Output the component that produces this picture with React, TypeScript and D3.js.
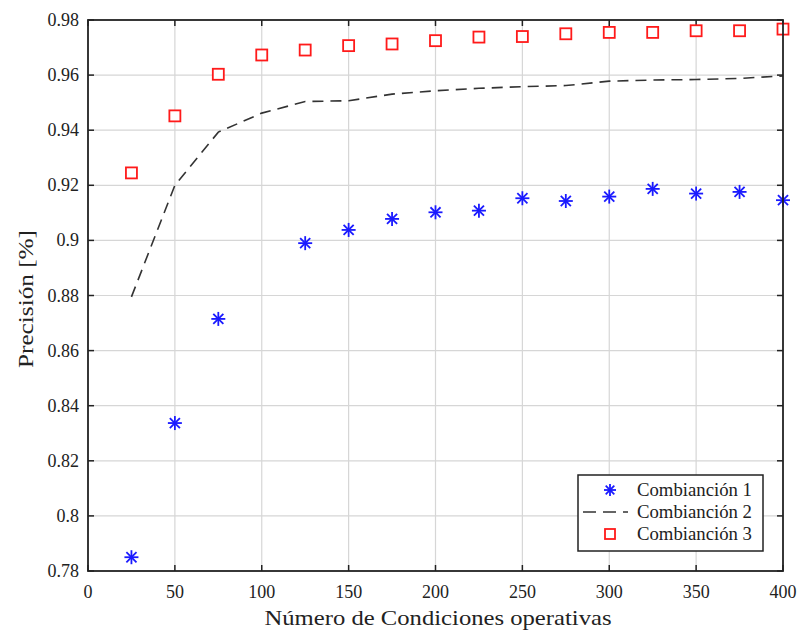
import React from "react";
import * as d3 from "d3";

const xValues = [25, 50, 75, 100, 125, 150, 175, 200, 225, 250, 275, 300, 325, 350, 375, 400];
const comb1X = [25, 50, 75, 125, 150, 175, 200, 225, 250, 275, 300, 325, 350, 375, 400];
const comb1 = [0.785, 0.8337, 0.8715, 0.899, 0.9038, 0.9078, 0.9102, 0.9108, 0.9153, 0.9143, 0.9159, 0.9187, 0.917, 0.9176, 0.9146];
const comb2 = [0.8795, 0.92, 0.9393, 0.9462, 0.9504, 0.9507, 0.9531, 0.9543, 0.9552, 0.9558, 0.9562, 0.9578, 0.9582, 0.9584, 0.9588, 0.9597];
const comb3 = [0.9245, 0.9452, 0.9603, 0.9673, 0.9691, 0.9707, 0.9713, 0.9725, 0.9738, 0.974, 0.975, 0.9755, 0.9755, 0.9761, 0.9761, 0.9767];
const xTicks = [0, 50, 100, 150, 200, 250, 300, 350, 400];
const yTicks = [0.78, 0.8, 0.82, 0.84, 0.86, 0.88, 0.9, 0.92, 0.94, 0.96, 0.98];
const legendLabels = ["Combianción 1", "Combianción 2", "Combianción 3"];

const L = 88, R = 783, T = 20, B = 571;
const FONT = "'Liberation Serif', 'DejaVu Serif', serif";

function Star({ x, y, s = 7 }: { x: number; y: number; s?: number }) {
  const d = s * 0.72;
  return (
    <g stroke="#1a1aff" strokeWidth={1.8}>
      <line x1={x - s} y1={y} x2={x + s} y2={y} />
      <line x1={x} y1={y - s} x2={x} y2={y + s} />
      <line x1={x - d} y1={y - d} x2={x + d} y2={y + d} />
      <line x1={x - d} y1={y + d} x2={x + d} y2={y - d} />
    </g>
  );
}

function Square({ x, y, s = 5.5 }: { x: number; y: number; s?: number }) {
  return <rect x={x - s} y={y - s} width={2 * s} height={2 * s} fill="white" stroke="#ff1a1a" strokeWidth={1.8} />;
}

export default function App() {
  const x = d3.scaleLinear().domain([0, 400]).range([L, R]);
  const y = d3.scaleLinear().domain([0.78, 0.98]).range([B, T]);
  const line = d3
    .line<number>()
    .x((_, i) => x(xValues[i]))
    .y((d) => y(d));
  const fmt = (v: number) => String(+v.toFixed(2));

  const lgX = 578, lgY = 475, lgW = 185, lgH = 76;
  return (
    <svg width={799} height={630} style={{ position: "absolute", left: 0, top: 0, background: "white" }} fontFamily={FONT}>
      {/* grid */}
      {xTicks.slice(1, -1).map((t) => (
        <line key={"gx" + t} x1={x(t)} x2={x(t)} y1={T} y2={B} stroke="#d6d6d6" strokeWidth={1.2} />
      ))}
      {yTicks.slice(1, -1).map((t) => (
        <line key={"gy" + t} x1={L} x2={R} y1={y(t)} y2={y(t)} stroke="#d6d6d6" strokeWidth={1.2} />
      ))}
      {/* ticks */}
      {xTicks.map((t) => (
        <g key={"tx" + t} stroke="#222" strokeWidth={1.5}>
          <line x1={x(t)} x2={x(t)} y1={B} y2={B - 6} />
          <line x1={x(t)} x2={x(t)} y1={T} y2={T + 6} />
        </g>
      ))}
      {yTicks.map((t) => (
        <g key={"ty" + t} stroke="#222" strokeWidth={1.5}>
          <line x1={L} x2={L + 6} y1={y(t)} y2={y(t)} />
          <line x1={R} x2={R - 6} y1={y(t)} y2={y(t)} />
        </g>
      ))}
      {/* tick labels */}
      {xTicks.map((t) => (
        <text key={"lx" + t} x={x(t)} y={598} textAnchor="middle" fontSize={18} fill="#222">
          {t}
        </text>
      ))}
      {yTicks.map((t) => (
        <text key={"ly" + t} x={79} y={y(t) + 6} textAnchor="end" fontSize={18} fill="#222">
          {fmt(t)}
        </text>
      ))}
      {/* axis titles */}
      <text x={438} y={625} textAnchor="middle" fontSize={22} fill="#222" textLength={347} lengthAdjust="spacingAndGlyphs">
        Número de Condiciones operativas
      </text>
      <text transform={`translate(33, 299) rotate(-90)`} textAnchor="middle" fontSize={21} fill="#222" textLength={138} lengthAdjust="spacingAndGlyphs">
        Precisión [%]
      </text>
      {/* series 2 */}
      <path d={line(comb2) || ""} fill="none" stroke="#333" strokeWidth={1.6} strokeDasharray="11,7" />
      {/* series 3 */}
      {comb3.map((v, i) => (
        <Square key={"s3" + i} x={x(xValues[i])} y={y(v)} />
      ))}
      {/* series 1 */}
      {comb1.map((v, i) => (
        <Star key={"s1" + i} x={x(comb1X[i])} y={y(v)} />
      ))}
      {/* axes box */}
      <rect x={L} y={T} width={R - L} height={B - T} fill="none" stroke="#222" strokeWidth={1.8} />
      {/* legend */}
      <rect x={lgX} y={lgY} width={lgW} height={lgH} fill="white" stroke="#222" strokeWidth={1.5} />
      <Star x={610} y={lgY + 15} s={6} />
      <line x1={583} x2={628} y1={lgY + 37} y2={lgY + 37} stroke="#333" strokeWidth={1.6} strokeDasharray="13,7" />
      <Square x={610} y={lgY + 59} s={5} />
      {legendLabels.map((lbl, i) => (
        <text key={lbl} x={637} y={lgY + 21 + i * 22} fontSize={18} fill="#222" textLength={115} lengthAdjust="spacingAndGlyphs">
          {lbl}
        </text>
      ))}
    </svg>
  );
}
